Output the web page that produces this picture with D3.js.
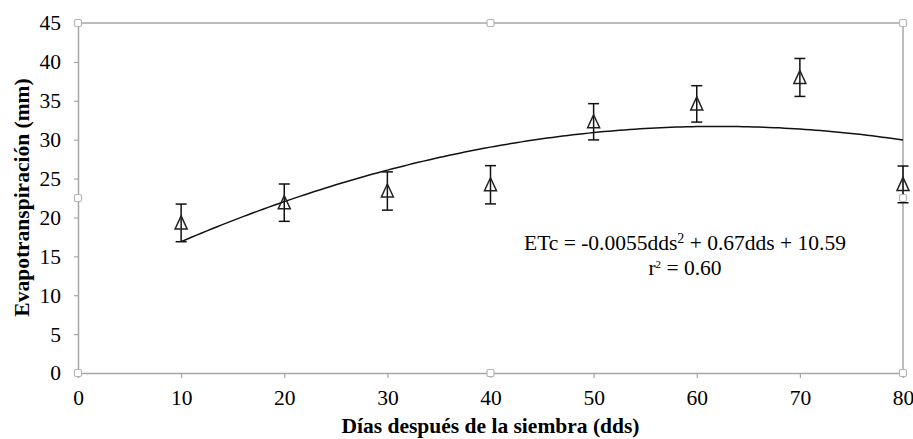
<!DOCTYPE html>
<html><head><meta charset="utf-8">
<script src="https://cdn.jsdelivr.net/npm/d3@7"></script>
<style>body{margin:0;background:#fff}svg{display:block}
svg text{font-family:"Liberation Serif","Times New Roman","DejaVu Serif",serif !important;}</style>
</head><body>
<script>
const days = [10, 20, 30, 40, 50, 60, 70, 80];
const etc = [19.3, 21.9, 23.4, 24.2, 32.3, 34.6, 38.0, 24.25];
const errs = [2.42, 2.4, 2.46, 2.46, 2.33, 2.34, 2.44, 2.36];
const xTicks = [0, 10, 20, 30, 40, 50, 60, 70, 80];
const yTicks = [0, 5, 10, 15, 20, 25, 30, 35, 40, 45];
const xTitle = "Días después de la siembra (dds)";
const yTitle = "Evapotranspiración (mm)";

const W = 913, H = 439;
const L = 78, R = 903, T = 23, B = 373;
const svg = d3.select("body").append("svg").attr("width", W).attr("height", H);
svg.append("rect").attr("width", W).attr("height", H).attr("fill", "#fff");

const x = d3.scaleLinear().domain([0, 80]).range([L, R]);
const y = d3.scaleLinear().domain([0, 45]).range([B, T]);
const gray = "#a6a6a6";

// frame
const frame = svg.append("g");
frame.append("line").attr("x1", L).attr("x2", R).attr("y1", T).attr("y2", T);
frame.append("line").attr("x1", R).attr("x2", R).attr("y1", T).attr("y2", B);
frame.selectAll("line").attr("stroke", gray).attr("stroke-width", 1.5);

// axes
const xAxis = svg.append("g").attr("transform", `translate(0,${B})`)
  .call(d3.axisBottom(x).tickValues(xTicks).tickSize(5).tickPadding(12));
const yAxis = svg.append("g").attr("transform", `translate(${L},0)`)
  .call(d3.axisLeft(y).tickValues(yTicks).tickSize(4).tickPadding(13));
[xAxis, yAxis].forEach(a => {
  a.attr("font-family", null).attr("font-size", null);
  a.select(".domain").attr("stroke", gray).attr("stroke-width", 1.5);
  a.selectAll(".tick line").attr("stroke", gray).attr("stroke-width", 1.2);
  a.selectAll("text").style("font-size", "21.5px").attr("fill", "#000");
});

// fitted quadratic trend (least squares on the data)
function quadFit(xs, ys) {
  let s = [0,0,0,0,0], t = [0,0,0];
  xs.forEach((xi, i) => {
    let p = 1;
    for (let k = 0; k < 5; k++) { s[k] += p; if (k < 3) t[k] += p * ys[i]; p *= xi; }
  });
  const M = [[s[0], s[1], s[2], t[0]], [s[1], s[2], s[3], t[1]], [s[2], s[3], s[4], t[2]]];
  for (let i = 0; i < 3; i++) {
    for (let j = i + 1; j < 3; j++) {
      const f = M[j][i] / M[i][i];
      for (let k = i; k < 4; k++) M[j][k] -= f * M[i][k];
    }
  }
  const c = [0,0,0];
  for (let i = 2; i >= 0; i--) {
    let v = M[i][3];
    for (let k = i + 1; k < 3; k++) v -= M[i][k] * c[k];
    c[i] = v / M[i][i];
  }
  return c;
}
const coef = quadFit(days, etc);
const curveX = d3.range(days[0], days[days.length - 1] + 0.001, 0.5);
svg.append("path")
  .datum(curveX)
  .attr("fill", "none").attr("stroke", "#111").attr("stroke-width", 1.5)
  .attr("d", d3.line().x(d => x(d)).y(d => y(coef[0] + coef[1] * d + coef[2] * d * d)));

// error bars
const eb = svg.append("g").attr("stroke", "#111").attr("stroke-width", 1.5);
days.forEach((d, i) => {
  const cx = x(d), y1 = y(etc[i] + errs[i]), y2 = y(etc[i] - errs[i]);
  eb.append("line").attr("x1", cx).attr("x2", cx).attr("y1", y1).attr("y2", y2);
  eb.append("line").attr("x1", cx - 5.5).attr("x2", cx + 5.5).attr("y1", y1).attr("y2", y1);
  eb.append("line").attr("x1", cx - 5.5).attr("x2", cx + 5.5).attr("y1", y2).attr("y2", y2);
});

// triangle markers
svg.append("g").selectAll("path").data(days).join("path")
  .attr("d", (d, i) => {
    const cx = x(d), cy = y(etc[i]);
    return `M${cx},${cy - 7}L${cx + 6},${cy + 6}L${cx - 6},${cy + 6}Z`;
  })
  .attr("fill", "none").attr("stroke", "#222").attr("stroke-width", 1.5);

// handles
const hx = [L, (L + R) / 2, R], hy = [T, (T + B) / 2, B];
const handles = [];
hx.forEach(a => hy.forEach(b => { if (!(a === (L + R) / 2 && b === (T + B) / 2)) handles.push([a, b]); }));
svg.append("g").selectAll("rect").data(handles).join("rect")
  .attr("x", d => d[0] - 3.5).attr("y", d => d[1] - 3.5).attr("width", 7).attr("height", 7)
  .attr("rx", 1.5).attr("fill", "#fff").attr("stroke", "#b5b5b5").attr("stroke-width", 1.2);

// equation
const eq = svg.append("text").attr("x", 685).attr("y", 250).attr("text-anchor", "middle")
  .style("font-size", "21.5px").attr("fill", "#000");
eq.append("tspan").text("ETc = -0.0055dds");
eq.append("tspan").attr("dy", -7).style("font-size", "14px").text("2");
eq.append("tspan").attr("dy", 7).text(" + 0.67dds + 10.59");
const r2 = svg.append("text").attr("x", 685).attr("y", 275).attr("text-anchor", "middle")
  .style("font-size", "21.5px").attr("fill", "#000");
r2.append("tspan").text("r");
r2.append("tspan").attr("dy", -7).style("font-size", "11px").text("2");
r2.append("tspan").attr("dy", 7).text(" = 0.60");

// titles
svg.append("text").attr("x", 490.5).attr("y", 433).attr("text-anchor", "middle")
  .style("font-size", "21.5px").attr("font-weight", "bold").text(xTitle);
svg.append("text").attr("transform", `translate(29,197.5) rotate(-90)`).attr("text-anchor", "middle")
  .style("font-size", "21.5px").attr("font-weight", "bold").text(yTitle);
</script>
</body></html>
